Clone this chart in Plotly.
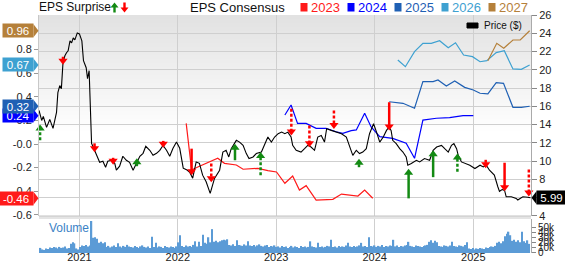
import plotly.graph_objects as go
import pandas as pd

FONT = "Liberation Sans, Arial, sans-serif"

# ---------------- data ----------------
price_dates = [
    "2020-08-04", "2020-08-14", "2020-08-20", "2020-09-01", "2020-09-13", "2020-09-25", "2020-10-08", "2020-10-13",
    "2020-10-20", "2020-10-26", "2020-11-01", "2020-11-08", "2020-11-14", "2020-11-20", "2020-11-27", "2020-12-03",
    "2020-12-09", "2020-12-15", "2020-12-24", "2021-01-01", "2021-01-10", "2021-01-16", "2021-01-26", "2021-01-31",
    "2021-02-06", "2021-02-12", "2021-02-15", "2021-02-26", "2021-03-17", "2021-03-29", "2021-04-08", "2021-04-16",
    "2021-04-29", "2021-05-12", "2021-05-18", "2021-05-30", "2021-06-11", "2021-06-24", "2021-07-06", "2021-07-19",
    "2021-08-01", "2021-08-13", "2021-08-25", "2021-09-04", "2021-09-19", "2021-10-01", "2021-10-14", "2021-10-26",
    "2021-11-07", "2021-11-20", "2021-12-02", "2021-12-14", "2021-12-27", "2022-01-08", "2022-01-21", "2022-02-02",
    "2022-02-14", "2022-02-25", "2022-03-10", "2022-03-22", "2022-04-03", "2022-04-16", "2022-05-01", "2022-05-17",
    "2022-06-05", "2022-06-17", "2022-06-29", "2022-07-09", "2022-07-18", "2022-07-31", "2022-08-06", "2022-08-18",
    "2022-08-31", "2022-09-12", "2022-09-22", "2022-10-07", "2022-10-19", "2022-11-07", "2022-11-19", "2022-12-01",
    "2022-12-14", "2022-12-26", "2023-01-08", "2023-01-21", "2023-02-02", "2023-02-13", "2023-02-25", "2023-03-03",
    "2023-03-16", "2023-04-03", "2023-04-16", "2023-04-28", "2023-05-10", "2023-05-23", "2023-06-04", "2023-06-17",
    "2023-06-29", "2023-07-07", "2023-07-24", "2023-08-11", "2023-08-31", "2023-09-18", "2023-09-30", "2023-10-12",
    "2023-10-25", "2023-11-06", "2023-11-18", "2023-12-01", "2023-12-13", "2023-12-28", "2024-01-08", "2024-01-20",
    "2024-02-02", "2024-02-14", "2024-02-23", "2024-03-02", "2024-03-08", "2024-03-21", "2024-04-03", "2024-04-15",
    "2024-04-27", "2024-05-03", "2024-05-16", "2024-06-04", "2024-06-16", "2024-07-04", "2024-07-23", "2024-08-05",
    "2024-08-18", "2024-09-05", "2024-09-17", "2024-09-30", "2024-10-12", "2024-10-21", "2024-10-31", "2024-11-06",
    "2024-11-18", "2024-12-07", "2024-12-19", "2025-01-07", "2025-01-26", "2025-02-07", "2025-02-18", "2025-03-02",
    "2025-03-20", "2025-04-02", "2025-04-08", "2025-04-18", "2025-04-27", "2025-05-03", "2025-05-22", "2025-06-09",
    "2025-06-15", "2025-06-25", "2025-07-04", "2025-07-22", "2025-08-01",
]
price_values = [
    15.55, 14.46, 14.90, 13.70, 14.57, 13.59, 15.33, 17.50,
    18.27, 17.94, 20.78, 21.54, 21.87, 22.08, 23.17, 22.95,
    23.50, 23.28, 24.04, 23.93, 23.17, 21.00, 20.23, 19.03,
    19.90, 13.37, 11.95, 11.19, 9.88, 9.99, 9.34, 9.99,
    10.10, 9.77, 9.01, 9.45, 10.54, 10.10, 9.88, 9.01,
    9.77, 10.54, 10.86, 11.63, 11.19, 10.64, 10.86, 11.19,
    11.73, 11.19, 10.54, 11.41, 12.09, 11.41, 9.23, 9.07,
    8.79, 8.14, 9.92, 9.77, 8.47, 7.74, 6.47, 8.11,
    9.01, 11.00, 11.19, 10.46, 11.37, 11.92, 12.28, 12.09,
    11.73, 10.83, 10.29, 10.46, 10.83, 11.00, 11.73, 12.64,
    12.09, 12.64, 13.01, 13.18, 13.01, 13.18, 12.64, 11.73,
    11.19, 11.00, 11.37, 11.73, 11.55, 11.19, 12.64, 12.82,
    12.09, 13.55, 13.37, 13.18, 13.01, 12.64, 11.55, 10.64,
    11.19, 10.83, 11.00, 11.37, 13.01, 14.10, 13.18, 12.09,
    12.64, 13.37, 13.73, 13.37, 12.28, 11.92, 11.37, 11.00,
    10.46, 9.56, 9.74, 10.10, 9.92, 10.29, 10.10, 11.19,
    11.55, 11.73, 11.37, 11.00, 11.73, 11.92, 11.37, 10.64,
    9.92, 9.74, 9.56, 9.20, 9.56, 9.37, 9.56, 9.01,
    8.47, 7.20, 6.70, 6.90, 6.80, 6.10, 6.10, 5.93,
    5.75, 5.95, 6.10, 6.05, 5.99,
]

cons_2023_dates = ["2022-02-01", "2022-02-21", "2022-03-16", "2022-04-16", "2022-05-29", "2022-06-23", "2022-08-06",
                   "2022-08-31", "2022-10-25", "2022-12-01", "2023-01-02", "2023-02-02", "2023-03-03", "2023-03-28",
                   "2023-04-22", "2023-05-29", "2023-07-30", "2023-08-31", "2023-09-30", "2023-10-31", "2023-11-25",
                   "2023-12-25"]
cons_2023 = [0.175, -0.22, -0.195, -0.164, -0.121, -0.164, -0.178, -0.214, -0.206, -0.226, -0.237, -0.333,
             -0.271, -0.39, -0.353, -0.475, -0.469, -0.424, -0.432, -0.441, -0.39, -0.46]

cons_2024_dates = ["2023-02-02", "2023-02-25", "2023-03-21", "2023-04-22", "2023-05-29", "2023-07-05", "2023-08-11",
                   "2023-09-05", "2023-10-06", "2023-10-25", "2023-11-25", "2023-12-19", "2024-01-20", "2024-03-08",
                   "2024-04-27", "2024-05-28", "2024-06-28", "2024-08-17", "2024-10-05", "2024-11-24", "2025-01-01"]
cons_2024 = [0.246, 0.33, 0.175, 0.175, 0.133, 0.133, 0.104, 0.091, 0.113, 0.119, 0.26, 0.144, 0.062, 0.048,
             0.006, -0.121, 0.203, 0.218, 0.223, 0.24, 0.24]

cons_2025_dates = ["2024-02-24", "2024-04-15", "2024-05-28", "2024-06-28", "2024-08-05", "2024-08-23", "2024-09-23",
                   "2024-10-24", "2024-11-30", "2025-01-01", "2025-01-26", "2025-02-24", "2025-03-27", "2025-04-23",
                   "2025-05-28", "2025-06-28", "2025-07-29"]
cons_2025 = [0.358, 0.345, 0.303, 0.528, 0.528, 0.542, 0.492, 0.534, 0.48, 0.458, 0.43, 0.424, 0.52, 0.514,
             0.311, 0.311, 0.32]

cons_2026_dates = ["2024-03-27", "2024-04-24", "2024-05-28", "2024-06-28", "2024-07-29", "2024-08-29", "2024-09-30",
                   "2024-10-27", "2024-11-26", "2024-12-29", "2025-01-26", "2025-02-20", "2025-03-27", "2025-04-26",
                   "2025-05-28", "2025-06-28", "2025-07-29"]
cons_2026 = [0.712, 0.655, 0.782, 0.853, 0.853, 0.875, 0.816, 0.858, 0.754, 0.74, 0.697, 0.706, 0.774, 0.79,
             0.636, 0.633, 0.67]

cons_2027_dates = ["2025-02-24", "2025-03-29", "2025-04-24", "2025-05-28", "2025-06-24", "2025-07-29"]
cons_2027 = [0.706, 0.853, 0.811, 0.881, 0.881, 0.96]

# EPS surprise arrows (price-axis values of arrow tail and tip)
surprise_dates = ["2020-08-08", "2020-11-01", "2021-02-26", "2021-05-06", "2021-08-02", "2021-11-08", "2022-02-21",
                  "2022-05-05", "2022-08-01", "2022-11-04", "2023-02-26", "2023-05-04", "2023-08-03", "2023-11-04",
                  "2024-02-24", "2024-05-06", "2024-08-05", "2024-11-03", "2025-02-16", "2025-04-27", "2025-07-26"]
surprise_from = [12.28, 21.43, 11.95, 10.37, 9.45, 12.22, 11.37, 9.74, 10.10, 8.47, 15.73, 13.91, 15.55, 9.34,
                 16.45, 5.93, 8.25, 8.83, 10.15, 9.83, 9.09]
surprise_to = [14.02, 20.56, 10.97, 9.61, 10.32, 11.46, 8.47, 7.70, 11.92, 11.00, 12.82, 11.52, 13.53, 10.26,
               13.37, 9.17, 11.19, 10.83, 9.23, 6.72, 6.12]
surprise_dashed = [True, False, False, False, False, False, False, True, False, True, True, True, True, True,
                   False, False, False, True, True, False, True]

volume_start = "2020-08-03"
volume_k = [
    8, 10, 7, 6, 9, 8,
    11, 10, 12, 11, 9, 12, 10, 11, 13, 9, 10,
    18, 21, 19, 9, 7, 12, 15, 14, 16, 13, 15,
    63, 30, 31, 28, 20, 22, 19, 21,
    12, 14, 11, 13, 15, 12, 19, 13, 11, 14, 12, 16, 13, 12,
    11, 14, 12, 10, 13, 15, 12, 11, 13, 10,
    32, 12, 20,
    11, 13, 12, 10, 14, 12, 11, 13, 12, 10, 13,
    21, 35, 14, 12, 15, 13, 14, 12, 16, 23, 13, 22, 14, 36, 20, 18, 31, 21, 47,
    22, 24, 21, 23, 25, 26, 25, 27, 16, 15, 17, 14, 25, 16, 15, 14, 17, 15, 23,
    15, 14, 16, 13, 15, 17, 14, 13, 15, 16, 12, 14, 13, 15,
    12, 13, 11, 14, 12, 13, 10, 12, 14, 11, 13, 12, 10, 14, 12, 13, 11, 12,
    23, 13, 12, 11, 20, 12, 13, 11, 12, 14, 13, 26,
    12, 13, 11, 14, 12, 13, 12, 15, 20, 13, 12, 14, 12, 13, 15, 20, 13, 14, 12, 31,
    14, 13, 15, 12, 14, 13, 16, 12, 14, 13, 15, 14, 26,
    13, 15, 12, 14, 13, 15, 16, 22,
    14, 13, 12, 15, 14, 13, 12, 14, 15, 16, 22, 25, 20, 24, 21,
    14, 13, 12, 15, 14, 13, 15, 22, 14, 13, 12, 15, 14, 13, 16, 21,
    9, 8, 10, 7, 9, 8, 10, 9, 8, 11, 10,
    12, 13, 12, 14, 20, 22, 19, 23, 33, 38, 42, 35,
    24, 26, 22, 25, 21, 42, 23, 20, 25, 18,
]

eps_ticks = [-0.6, -0.4, -0.2, 0.0, 0.2, 0.4, 0.6, 0.8]
eps_tick_text = ["-0.6", "-0.4", "-0.2", "-0.0", "0.2", "0.4", "0.6", "0.8"]
year_ticks = ["2021-01-01", "2022-01-01", "2023-01-01", "2024-01-01", "2025-01-01"]
year_labels = ["2021", "2022", "2023", "2024", "2025"]
vol_ticks = [0, 10, 20, 30, 40, 50]
vol_tick_text = ["0", "10k", "20k", "30k", "40k", "50k"]
consensus_years = ["2023", "2024", "2025", "2026", "2027"]

# ---------------- styling / geometry ----------------
W, H = 565, 264
ML, MR, MT, MB = 39, 34, 15, 11
PW, PH = W - ML - MR, H - MT - MB
MAIN_DOM = [0.1555, 1.0]
VOL_DOM = [0.0, 0.1429]
PRICE_RANGE = [4, 26]
EPS_RANGE = [-0.610, 1.093]
VOL_RANGE = [0, 67]
X_RANGE = ["2020-08-04", "2025-08-03"]

COLORS = {"2023": "#ff1a1a", "2024": "#0000ff", "2025": "#1f60b4", "2026": "#3ea1d1", "2027": "#b5803a"}
GREEN, RED = "#138a13", "#ff0000"
GRID = "#cfcfcf"
TICK_FONT = dict(family=FONT, size=11, color="#222222")


def fx(px):
    return (px - ML) / PW


def fy(py):
    return (H - MB - py) / PH


fig = go.Figure()

# consensus lines
cons = {
    "2023": (cons_2023_dates, cons_2023),
    "2024": (cons_2024_dates, cons_2024),
    "2025": (cons_2025_dates, cons_2025),
    "2026": (cons_2026_dates, cons_2026),
    "2027": (cons_2027_dates, cons_2027),
}
for yr in consensus_years:
    d, v = cons[yr]
    fig.add_trace(go.Scatter(x=d, y=v, mode="lines", yaxis="y", line=dict(color=COLORS[yr], width=1.2),
                             showlegend=False, hoverinfo="skip"))

# price line
fig.add_trace(go.Scatter(x=price_dates, y=price_values, mode="lines", yaxis="y2",
                         line=dict(color="#000000", width=1.1), showlegend=False, hoverinfo="skip"))

# surprise arrows
main_px = PH * (MAIN_DOM[1] - MAIN_DOM[0])
unit_per_px = (PRICE_RANGE[1] - PRICE_RANGE[0]) / main_px
HEAD = 8
r_units = HEAD / 2 * unit_per_px
shafts = {}
heads = {}
for d, f, t, dashed in zip(surprise_dates, surprise_from, surprise_to, surprise_dashed):
    up = t > f
    color = GREEN if up else RED
    center = t - r_units if up else t + r_units
    key = (color, dashed)
    xs, ys = shafts.setdefault(key, ([], []))
    xs += [d, d, None]
    ys += [f, center, None]
    hk = (color, "triangle-up" if up else "triangle-down")
    hx, hy = heads.setdefault(hk, ([], []))
    hx.append(d)
    hy.append(center)
for (color, dashed), (xs, ys) in shafts.items():
    fig.add_trace(go.Scatter(x=xs, y=ys, mode="lines", yaxis="y2", connectgaps=False,
                             line=dict(color=color, width=2.5, dash="3px,2px" if dashed else "solid"),
                             showlegend=False, hoverinfo="skip", cliponaxis=False))
for (color, sym), (hx, hy) in heads.items():
    fig.add_trace(go.Scatter(x=hx, y=hy, mode="markers", yaxis="y2",
                             marker=dict(symbol=sym, size=HEAD, color=color, line=dict(width=0)),
                             showlegend=False, hoverinfo="skip", cliponaxis=False))

# volume
vol_dates = pd.date_range(volume_start, periods=len(volume_k), freq="7D")
fig.add_trace(go.Bar(x=vol_dates, y=volume_k, yaxis="y3", marker=dict(color="#5b9bd6", line=dict(width=0)),
                     showlegend=False, hoverinfo="skip"))

shapes = []
annotations = []

# background gradient in price panel
n_bands = 30
for k in range(n_bands):
    py0 = MT + k * 4
    lvl = int(round(226 + (255 - 226) * k / (n_bands - 1)))
    shapes.append(dict(type="rect", xref="paper", yref="paper", x0=0, x1=1, y0=fy(py0 + 4.5), y1=fy(py0),
                       fillcolor=f"rgb({lvl},{lvl},{lvl})", line=dict(width=0), layer="below"))
# band between price and volume panels
shapes.append(dict(type="rect", xref="paper", yref="paper", x0=0, x1=1, y0=VOL_DOM[1], y1=MAIN_DOM[0],
                   fillcolor="#e4e4e4", line=dict(width=0), layer="below"))
shapes.append(dict(type="line", xref="paper", yref="paper", x0=0, x1=1, y0=MAIN_DOM[0], y1=MAIN_DOM[0],
                   line=dict(color="#c4c4c4", width=1), layer="above"))

# value labels on the left (consensus last values)
for yr in consensus_years:
    d, v = cons[yr]
    val = v[-1]
    txt = f"{val:.2f}"
    wdt = 34 if val < 0 else 30
    annotations.append(dict(xref="paper", yref="y", x=0, y=val, xanchor="right", yanchor="middle", xshift=-5,
                            text=txt, showarrow=False, bgcolor=COLORS[yr], width=wdt, height=13, borderpad=0,
                            font=dict(family=FONT, size=11.5, color="white")))
    shapes.append(dict(type="path", xref="paper", yref="y", xsizemode="pixel", ysizemode="pixel",
                       xanchor=0, yanchor=val, path="M -5.5,-6.5 L -0.5,0 L -5.5,6.5 Z",
                       fillcolor=COLORS[yr], line=dict(width=0), layer="above"))

# last price label on the right
last_price = price_values[-1]
annotations.append(dict(xref="paper", yref="y2", x=1, y=last_price, xanchor="left", yanchor="middle", xshift=5,
                        text=f"{last_price:.2f}", showarrow=False, bgcolor="#000000", width=29, height=13,
                        borderpad=0, font=dict(family=FONT, size=11.5, color="white")))
shapes.append(dict(type="path", xref="paper", yref="y2", xsizemode="pixel", ysizemode="pixel",
                   xanchor=1, yanchor=last_price, path="M 5.5,-6.5 L 0.5,0 L 5.5,6.5 Z",
                   fillcolor="#000000", line=dict(width=0), layer="above"))

# top header
TY = 7.5
annotations.append(dict(xref="paper", yref="paper", x=fx(37), y=fy(TY), xanchor="left", yanchor="middle",
                        text="EPS Surprise", showarrow=False, font=dict(family=FONT, size=12, color="#111111")))


def arrow_icon(cx, up, color):
    top, bot = 2.5, 12.5
    if up:
        p = [(cx, top), (cx + 4, top + 5), (cx + 1.2, top + 5), (cx + 1.2, bot), (cx - 1.2, bot),
             (cx - 1.2, top + 5), (cx - 4, top + 5)]
    else:
        p = [(cx, bot), (cx + 4, bot - 5), (cx + 1.2, bot - 5), (cx + 1.2, top), (cx - 1.2, top),
             (cx - 1.2, bot - 5), (cx - 4, bot - 5)]
    path = "M " + " L ".join(f"{fx(a):.5f},{fy(b):.5f}" for a, b in p) + " Z"
    return dict(type="path", xref="paper", yref="paper", path=path, fillcolor=color, line=dict(width=0),
                layer="above")


shapes.append(arrow_icon(114.5, True, GREEN))
shapes.append(arrow_icon(124.5, False, RED))

annotations.append(dict(xref="paper", yref="paper", x=fx(188), y=fy(TY), xanchor="left", yanchor="middle",
                        text="EPS Consensus", showarrow=False, font=dict(family=FONT, size=13, color="#111111")))
item_x = [300.5, 347.5, 394.5, 441.5, 488.5]
for yr, px in zip(consensus_years, item_x):
    shapes.append(dict(type="rect", xref="paper", yref="paper", x0=fx(px), x1=fx(px + 7), y0=fy(11.5),
                       y1=fy(3), fillcolor=COLORS[yr], line=dict(width=0), layer="above"))
    annotations.append(dict(xref="paper", yref="paper", x=fx(px + 8.5), y=fy(TY), xanchor="left",
                            yanchor="middle", text=yr, showarrow=False,
                            font=dict(family=FONT, size=13, color=COLORS[yr])))

# price legend
shapes.append(dict(type="rect", xref="paper", yref="paper", x0=fx(467), x1=fx(478), y0=fy(28), y1=fy(23),
                   fillcolor="#000000", line=dict(color="#000000", width=1), layer="above"))
annotations.append(dict(xref="paper", yref="paper", x=fx(481.5), y=fy(25.5), xanchor="left", yanchor="middle",
                        text="Price ($)", showarrow=False, font=dict(family=FONT, size=10, color="#111111")))

# volume label
annotations.append(dict(xref="paper", yref="paper", x=fx(47), y=fy(227.5), xanchor="left", yanchor="middle",
                        text="Volume", showarrow=False, font=dict(family=FONT, size=12, color="#3b82c6")))

fig.update_layout(
    width=W, height=H,
    margin=dict(l=ML, r=MR, t=MT, b=MB, pad=0, autoexpand=False),
    paper_bgcolor="white", plot_bgcolor="white",
    font=dict(family=FONT, size=11, color="#222222"),
    showlegend=False, bargap=0.3,
    shapes=shapes, annotations=annotations,
    xaxis=dict(type="date", range=X_RANGE, anchor="y3", domain=[0, 1], showgrid=True, gridcolor=GRID,
               gridwidth=1, tickvals=year_ticks, ticktext=year_labels, ticks="", zeroline=False,
               showline=False, automargin=False, ticklabelstandoff=-4, tickfont=TICK_FONT),
    yaxis=dict(domain=MAIN_DOM, range=EPS_RANGE, side="left", anchor="x", tickvals=eps_ticks,
               ticktext=eps_tick_text, ticks="outside", ticklen=4, tickcolor="#999999", showgrid=False,
               zeroline=False, showline=True, linecolor="#c8c8c8", automargin=False, tickfont=TICK_FONT),
    yaxis2=dict(overlaying="y", anchor="x", side="right", range=PRICE_RANGE, tick0=4, dtick=2, showgrid=True,
                gridcolor=GRID, ticks="outside", ticklen=5, tickcolor="#888888", zeroline=False, showline=True,
                linecolor="#aaaaaa", automargin=False, tickfont=TICK_FONT),
    yaxis3=dict(domain=VOL_DOM, anchor="x", side="right", range=VOL_RANGE, tickvals=vol_ticks,
                ticktext=vol_tick_text, ticks="outside", ticklen=4, tickcolor="#888888", showgrid=False,
                zeroline=False, showline=True, linecolor="#aaaaaa", automargin=False,
                tickfont=dict(family=FONT, size=10, color="#222222")),
)

fig.write_html("out.html")
